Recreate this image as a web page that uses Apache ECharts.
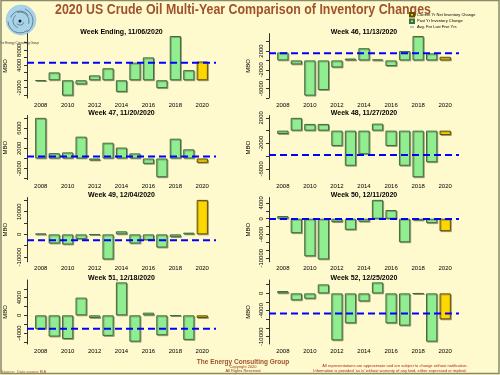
<!DOCTYPE html>
<html>
<head>
<meta charset="utf-8">
<script src="https://cdn.jsdelivr.net/npm/echarts@6/dist/echarts.min.js"></script>
<style>
  html, body { margin: 0; padding: 0; background: #fffacd; }
  #chart { width: 500px; height: 375px; }
</style>
</head>
<body>
<div id="chart"></div>
<script>
const years = ['2008', '2009', '2010', '2011', '2012', '2013', '2014', '2015', '2016', '2017', '2018', '2019', '2020'];

// weekly crude inventory change, thousand barrels (MBO)
const wk45 = [-150, 2100, -4100, -1100, 1300, 3200, -3100, 4700, 6100, -2100, 11800, 2700, 5000];
const wk46 = [1700, -850, -7500, -6300, -1500, 400, 2600, 200, -1200, 2000, 5200, 1500, 770];
const wk47 = [8000, 1050, 1200, 4300, -400, 3100, 2150, 1000, -1050, -3700, 3900, 1800, -850];
const wk48 = [-530, 2000, 1050, 1050, -2400, -5500, -3700, 1100, -2400, -5500, -7300, -4950, -680];
const wk49 = [290, -4020, -4450, -2080, -100, -11030, 1350, -4020, -2420, -5800, -1210, 750, 15190];
const wk50 = [680, -3650, -9500, -10300, -850, -2800, -770, 4770, 2200, -5960, -430, -1100, -3150];
const wk51 = [-3100, -4800, -5350, 4000, -600, -4650, 7450, -5950, 600, -4500, -100, -5550, -600];
const wk52 = [540, -1600, -1230, 2080, -10850, -6900, -1850, 2540, -6900, -7450, -50, -11150, -6000];

const fiveYrAvg = [4640, 1540, 390, -3810, -2540, -100, -3050, -4650];

const weekTitles = [
  'Week Ending, 11/06/2020', 'Week 46, 11/13/2020',
  'Week 47, 11/20/2020', 'Week 48, 11/27/2020',
  'Week 49, 12/04/2020', 'Week 50, 12/11/2020',
  'Week 51, 12/18/2020', 'Week 52, 12/25/2020'
];

const tickValues = [
  [-4000, -2000, 0, 2000, 4000, 6000, 8000, 10000],
  [-8000, -6000, -4000, -2000, 0, 2000, 4000],
  [-4000, -2000, 0, 2000, 4000, 6000, 8000],
  [-6000, -4000, -2000, 0, 2000],
  [-10000, -5000, 0, 5000, 10000, 15000],
  [-10000, -8000, -6000, -4000, -2000, 0, 2000, 4000],
  [-6000, -4000, -2000, 0, 2000, 4000, 6000],
  [-10000, -8000, -6000, -4000, -2000, 0, 2000]
];
const labelValues = [
  [-2000, 4000, 8000],
  [-6000, -2000, 2000],
  [-2000, 2000, 6000],
  [-6000, -2000, 2000],
  [-10000, 0, 10000],
  [-10000, -4000, 0, 4000],
  [-4000, 0, 4000],
  [-10000, -4000, 0]
];

const weekValues = [wk45, wk46, wk47, wk48, wk49, wk50, wk51, wk52];

const rows = [[33.6, 98], [115.5, 179.6], [197.5, 261.8], [280, 344]];
const cols = [{ x: 27, w: 189 }, { x: 269, w: 190 }];

const brown = '#a0522d';
const font = 'Liberation Sans, Arial, sans-serif';

let grids = [], xAxes = [], yAxes = [], series = [], graphics = [];

weekValues.forEach((vals, i) => {
  const r = rows[Math.floor(i / 2)];
  const c = cols[i % 2];
  const lo = Math.min(0, ...vals), hi = Math.max(0, ...vals);
  const pad = (hi - lo) * 0.04;
  const yMin = lo - pad, yMax = hi + pad;
  const unit = c.w / 16.848;
  const last = vals.length - 1;

  // bar grid (inner), line grid (full plot region)
  grids.push({ left: c.x + 0.624 * unit, top: r[0], width: 15.6 * unit, height: r[1] - r[0] });
  grids.push({ left: c.x, top: r[0], width: c.w, height: r[1] - r[0] });

  xAxes.push({
    type: 'category', gridIndex: 2 * i, data: years,
    axisLine: { show: false }, axisTick: { show: false },
    axisLabel: { interval: 1, fontSize: 6, margin: 4, color: '#000', fontFamily: font }
  });
  xAxes.push({ type: 'value', gridIndex: 2 * i + 1, min: 0, max: 1, show: false });

  yAxes.push({ type: 'value', gridIndex: 2 * i, min: yMin, max: yMax, show: false });
  yAxes.push({
    type: 'value', gridIndex: 2 * i + 1, min: yMin, max: yMax,
    splitLine: { show: false },
    axisLine: { show: true, lineStyle: { color: '#333', width: 1 } },
    axisTick: { show: true, length: 3, customValues: tickValues[i], lineStyle: { color: '#333' } },
    axisLabel: {
      customValues: labelValues[i], rotate: 90, fontSize: 6, margin: 5,
      color: '#000', fontFamily: font,
      formatter: v => (labelValues[i].indexOf(v) >= 0 ? String(v) : '')
    }
  });

  const barStyle = {
    borderWidth: 1,
    shadowColor: 'rgba(110,110,80,0.55)', shadowOffsetX: 1, shadowOffsetY: 1, shadowBlur: 0
  };
  series.push({
    name: 'Past Yr Inventory Change', type: 'bar', stack: 's' + i,
    xAxisIndex: 2 * i, yAxisIndex: 2 * i, barCategoryGap: '16.7%',
    data: vals.map((v, j) => (j < last ? v : '-')),
    itemStyle: Object.assign({ color: '#90ee90', borderColor: '#3d6e3d' }, barStyle),
    silent: true
  });
  series.push({
    name: 'Current Yr Net Inventory Change', type: 'bar', stack: 's' + i,
    xAxisIndex: 2 * i, yAxisIndex: 2 * i, barCategoryGap: '16.7%',
    data: vals.map((v, j) => (j === last ? v : '-')),
    itemStyle: Object.assign({ color: '#ffd700', borderColor: '#5e5000' }, barStyle),
    silent: true
  });
  series.push({
    name: 'Avg. For Last Five Yrs', type: 'line',
    xAxisIndex: 2 * i + 1, yAxisIndex: 2 * i + 1,
    data: [[0, fiveYrAvg[i]], [1, fiveYrAvg[i]]],
    symbol: 'none', z: 10, silent: true,
    lineStyle: { color: '#0000ff', width: 2, type: [7, 4] }
  });

  graphics.push({
    type: 'text', x: c.x + c.w / 2, y: r[0] - 2,
    style: { text: weekTitles[i], align: 'center', verticalAlign: 'middle',
             font: 'bold 7px ' + font, fill: '#000' }
  });
  graphics.push({
    type: 'text', x: i % 2 === 0 ? 5 : 248, y: (r[0] + r[1]) / 2, rotation: Math.PI / 2,
    style: { text: 'MBO', align: 'center', verticalAlign: 'middle',
             font: '6px ' + font, fill: '#000' }
  });
});

// logo
graphics.push({ type: 'circle', shape: { cx: 21, cy: 20, r: 15 },
  style: { fill: '#a8d4ea', stroke: '#8fbfd8', lineWidth: 0.5 } });
[[4, 0.3], [7, 1.9], [10, 3.5], [13, 5.1], [9, 4.4], [12, 0.9]].forEach(a => {
  graphics.push({ type: 'arc', shape: { cx: 20, cy: 21, r: a[0], startAngle: a[1], endAngle: a[1] + 2.2 },
    style: { stroke: '#3a4a5a', lineWidth: 0.6, fill: null } });
});
graphics.push({ type: 'circle', shape: { cx: 20, cy: 21, r: 1.5 }, style: { fill: '#1a2030' } });
graphics.push({ type: 'text', x: 19, y: 43,
  style: { text: 'The Energy Consulting Group', align: 'center', verticalAlign: 'middle',
           font: '3px ' + font, fill: '#333' } });

// main title
graphics.push({ type: 'text', x: 243, y: 10.5, scaleX: 0.885,
  style: { text: '2020 US Crude Oil Multi-Year Comparison of Inventory Changes',
           align: 'center', verticalAlign: 'middle', font: 'bold 14px ' + font, fill: brown } });

// footer
graphics.push({ type: 'text', x: 1, y: 371.5,
  style: { text: 'Source:  Data source EIA', align: 'left', verticalAlign: 'middle',
           font: '4px ' + font, fill: brown } });
graphics.push({ type: 'text', x: 243, y: 362.5,
  style: { text: 'The Energy Consulting Group', align: 'center', verticalAlign: 'middle',
           font: 'bold 6.5px ' + font, fill: brown } });
graphics.push({ type: 'text', x: 243, y: 367,
  style: { text: 'Copyright 2020', align: 'center', verticalAlign: 'middle',
           font: '4px ' + font, fill: '#8b3a1a' } });
graphics.push({ type: 'text', x: 243, y: 371,
  style: { text: 'All Rights Reserved', align: 'center', verticalAlign: 'middle',
           font: '4px ' + font, fill: '#8b3a1a' } });
graphics.push({ type: 'text', x: 395, y: 366,
  style: { text: 'All representations are approximate and are subject to change without notification.',
           align: 'center', verticalAlign: 'middle', font: '4px ' + font, fill: '#b22222' } });
graphics.push({ type: 'text', x: 390, y: 370.5,
  style: { text: "Information is provided 'as is' without warranty of any kind, either expressed or implied.",
           align: 'center', verticalAlign: 'middle', font: '4px ' + font, fill: '#b22222' } });

// frame
graphics.push({ type: 'rect', shape: { x: 1, y: 0.5, width: 498, height: 373 },
  style: { fill: null, stroke: '#8a8a6a', lineWidth: 1.5 }, silent: true });

const chart = echarts.init(document.getElementById('chart'));
chart.setOption({
  backgroundColor: '#fffacd',
  animation: false,
  legend: {
    left: 409, top: 12, orient: 'vertical', padding: 0,
    itemWidth: 4, itemHeight: 3.5, itemGap: 1,
    textStyle: { fontSize: 4, color: '#000', fontFamily: font, padding: [0, 0, 0, -2] },
    data: [
      { name: 'Current Yr Net Inventory Change', icon: 'rect' },
      { name: 'Past Yr Inventory Change', icon: 'rect' },
      { name: 'Avg. For Last Five Yrs', icon: 'path://M0,4L10,4L10,6L0,6Z' }
    ],
    selectedMode: false
  },
  grid: grids,
  xAxis: xAxes,
  yAxis: yAxes,
  series: series,
  graphic: graphics
});
</script>
</body>
</html>
